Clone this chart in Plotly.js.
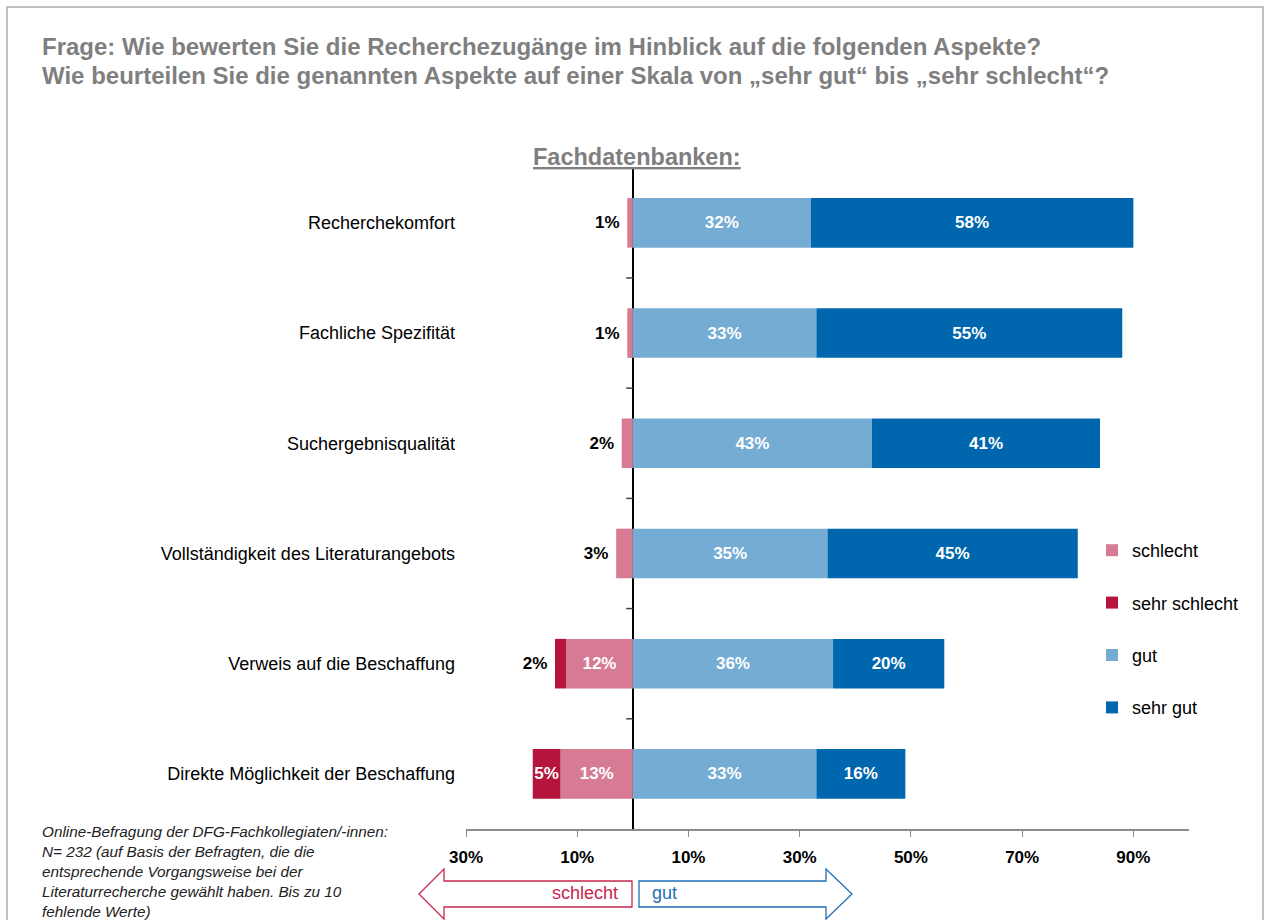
<!DOCTYPE html>
<html>
<head>
<meta charset="utf-8">
<script src="https://cdn.plot.ly/plotly-3.0.1.min.js"></script>
<style>
  body { margin: 0; background: #fff; }
  #frame {
    position: absolute; left: 6px; top: 6px; width: 1254px; height: 1000px;
    border: 2px solid #c0c0c0; pointer-events: none;
  }
  #chart { position: absolute; left: 0; top: 0; width: 1265px; height: 920px; }
</style>
</head>
<body>
<div id="frame"></div>
<div id="chart"></div>
<script>
const aspects = [
  "Recherchekomfort",
  "Fachliche Spezifität",
  "Suchergebnisqualität",
  "Vollständigkeit des Literaturangebots",
  "Verweis auf die Beschaffung",
  "Direkte Möglichkeit der Beschaffung",
];

// percent values (negative side drawn to the left)
const schlecht = [1, 1, 2, 3, 12, 13];
const sehrSchlecht = [null, null, null, null, 2, 5];
const gut = [32, 33, 43, 35, 36, 33];
const sehrGut = [58, 55, 41, 45, 20, 16];

const tickVals = [-30, -10, 10, 30, 50, 70, 90];
const tickText = ["30%", "10%", "10%", "30%", "50%", "70%", "90%"];

const FONT = "Liberation Sans, Arial, sans-serif";
const W = 1265, H = 920;
const M = { l: 466, r: 76, t: 167, b: 91 };

// pixel -> paper helpers for the decorations outside the plot
const px = (x) => (x - M.l) / (W - M.l - M.r);
const py = (y) => (H - M.b - y) / (H - M.t - M.b);

function barTrace(name, vals, sign, color) {
  const pos = vals.map((v) => (v !== null && v <= 3 ? "outside" : "inside"));
  return {
    type: "bar",
    orientation: "h",
    name,
    legendgroup: name,
    y: aspects,
    x: vals.map((v) => (v === null ? null : sign * v)),
    text: vals.map((v, i) => (v === null ? "" : v + "%" + (pos[i] === "outside" ? "\u00a0" : ""))),
    textposition: pos,
    textangle: 0,
    constraintext: "none",
    insidetextanchor: "middle",
    insidetextfont: { family: FONT, size: 17, color: "#fff", weight: "bold" },
    outsidetextfont: { family: FONT, size: 17, color: "#000", weight: "bold" },
    cliponaxis: false,
    marker: { color },
    width: 0.45,
    hoverinfo: "skip",
  };
}

const data = [
  barTrace("schlecht", schlecht, -1, "#d67b93"),
  barTrace("sehr schlecht", sehrSchlecht, -1, "#b5143c"),
  barTrace("gut", gut, 1, "#74acd3"),
  barTrace("sehr gut", sehrGut, 1, "#0066ad"),
];

// small ticks on the zero line between the categories
const shapes = [];
for (let i = 0; i < aspects.length; i++) {
  shapes.push({
    type: "line", xref: "x", yref: "y",
    x0: -1.2, x1: 0, y0: i - 0.5, y1: i - 0.5,
    line: { color: "#444", width: 1.5 },
  });
}

// arrows under the axis
const redArrow = [[419, 894], [444, 869], [444, 881], [632, 881], [632, 907], [444, 907], [444, 919]];
const blueArrow = [[639, 881], [826, 881], [826, 869], [852, 894], [826, 919], [826, 907], [639, 907]];
const toPath = (pts) => "M" + pts.map(([x, y]) => px(x) + "," + py(y)).join(" L") + " Z";
shapes.push({
  type: "path", xref: "paper", yref: "paper", path: toPath(redArrow),
  line: { color: "#c8264f", width: 1.3 }, fillcolor: "#fff",
});
shapes.push({
  type: "path", xref: "paper", yref: "paper", path: toPath(blueArrow),
  line: { color: "#1f6fb4", width: 1.3 }, fillcolor: "#fff",
});

const grey = "#7f7f7f";
const annotations = [
  {
    text: "Frage: Wie bewerten Sie die Recherchezugänge im Hinblick auf die folgenden Aspekte?",
    xref: "paper", yref: "paper", x: px(40), y: py(47), xanchor: "left", yanchor: "middle",
    showarrow: false, font: { family: FONT, size: 24, color: grey, weight: "bold" },
  },
  {
    text: "Wie beurteilen Sie die genannten Aspekte auf einer Skala von „sehr gut“ bis „sehr schlecht“?",
    xref: "paper", yref: "paper", x: px(40), y: py(75), xanchor: "left", yanchor: "middle",
    showarrow: false, font: { family: FONT, size: 24, color: grey, weight: "bold" },
  },
  {
    text: "<u>Fachdatenbanken:</u>",
    xref: "paper", yref: "paper", x: px(637), y: py(157), xanchor: "center", yanchor: "middle",
    showarrow: false, font: { family: FONT, size: 23.5, color: grey, weight: "bold" },
  },
  {
    text: "Online-Befragung der DFG-Fachkollegiaten/-innen:<br>N= 232 (auf Basis der Befragten, die die<br>entsprechende Vorgangsweise bei der<br>Literaturrecherche gewählt haben. Bis zu 10<br>fehlende Werte)",
    xref: "paper", yref: "paper", x: px(40), y: py(821), xanchor: "left", yanchor: "top",
    align: "left", showarrow: false,
    font: { family: FONT, size: 15.3, color: "#222", style: "italic" },
  },
  {
    text: "schlecht",
    xref: "paper", yref: "paper", x: px(620), y: py(893), xanchor: "right", yanchor: "middle",
    showarrow: false, font: { family: FONT, size: 18, color: "#c8264f" },
  },
  {
    text: "gut",
    xref: "paper", yref: "paper", x: px(650), y: py(893), xanchor: "left", yanchor: "middle",
    showarrow: false, font: { family: FONT, size: 18, color: "#1f6fb4" },
  },
];

const layout = {
  width: W,
  height: H,
  margin: M,
  barmode: "relative",
  bargap: 0.55,
  showlegend: true,
  legend: {
    x: px(1092), y: py(532), xanchor: "left", yanchor: "top",
    traceorder: "grouped", tracegroupgap: 26,
    font: { family: FONT, size: 18, color: "#000" },
    itemwidth: 30,
    bgcolor: "rgba(0,0,0,0)",
  },
  xaxis: {
    range: [-30, 100],
    tickvals: tickVals,
    ticktext: tickText,
    tickfont: { family: FONT, size: 17, color: "#000", weight: "bold" },
    ticklabelstandoff: 6,
    showgrid: false,
    showline: true,
    linecolor: "#8c8c8c",
    linewidth: 1.5,
    ticks: "outside",
    ticklen: 6,
    tickcolor: "#8c8c8c",
    zeroline: true,
    zerolinecolor: "#000",
    zerolinewidth: 1.5,
    fixedrange: true,
  },
  yaxis: {
    categoryorder: "array",
    categoryarray: aspects,
    autorange: "reversed",
    tickfont: { family: FONT, size: 18, color: "#000" },
    ticks: "",
    ticklabelstandoff: 10,
    showgrid: false,
    showline: false,
    zeroline: false,
    fixedrange: true,
  },
  shapes,
  annotations,
  font: { family: FONT },
  paper_bgcolor: "rgba(0,0,0,0)",
  plot_bgcolor: "rgba(0,0,0,0)",
};

Plotly.newPlot("chart", data, layout, { displayModeBar: false, staticPlot: true });
</script>
</body>
</html>
